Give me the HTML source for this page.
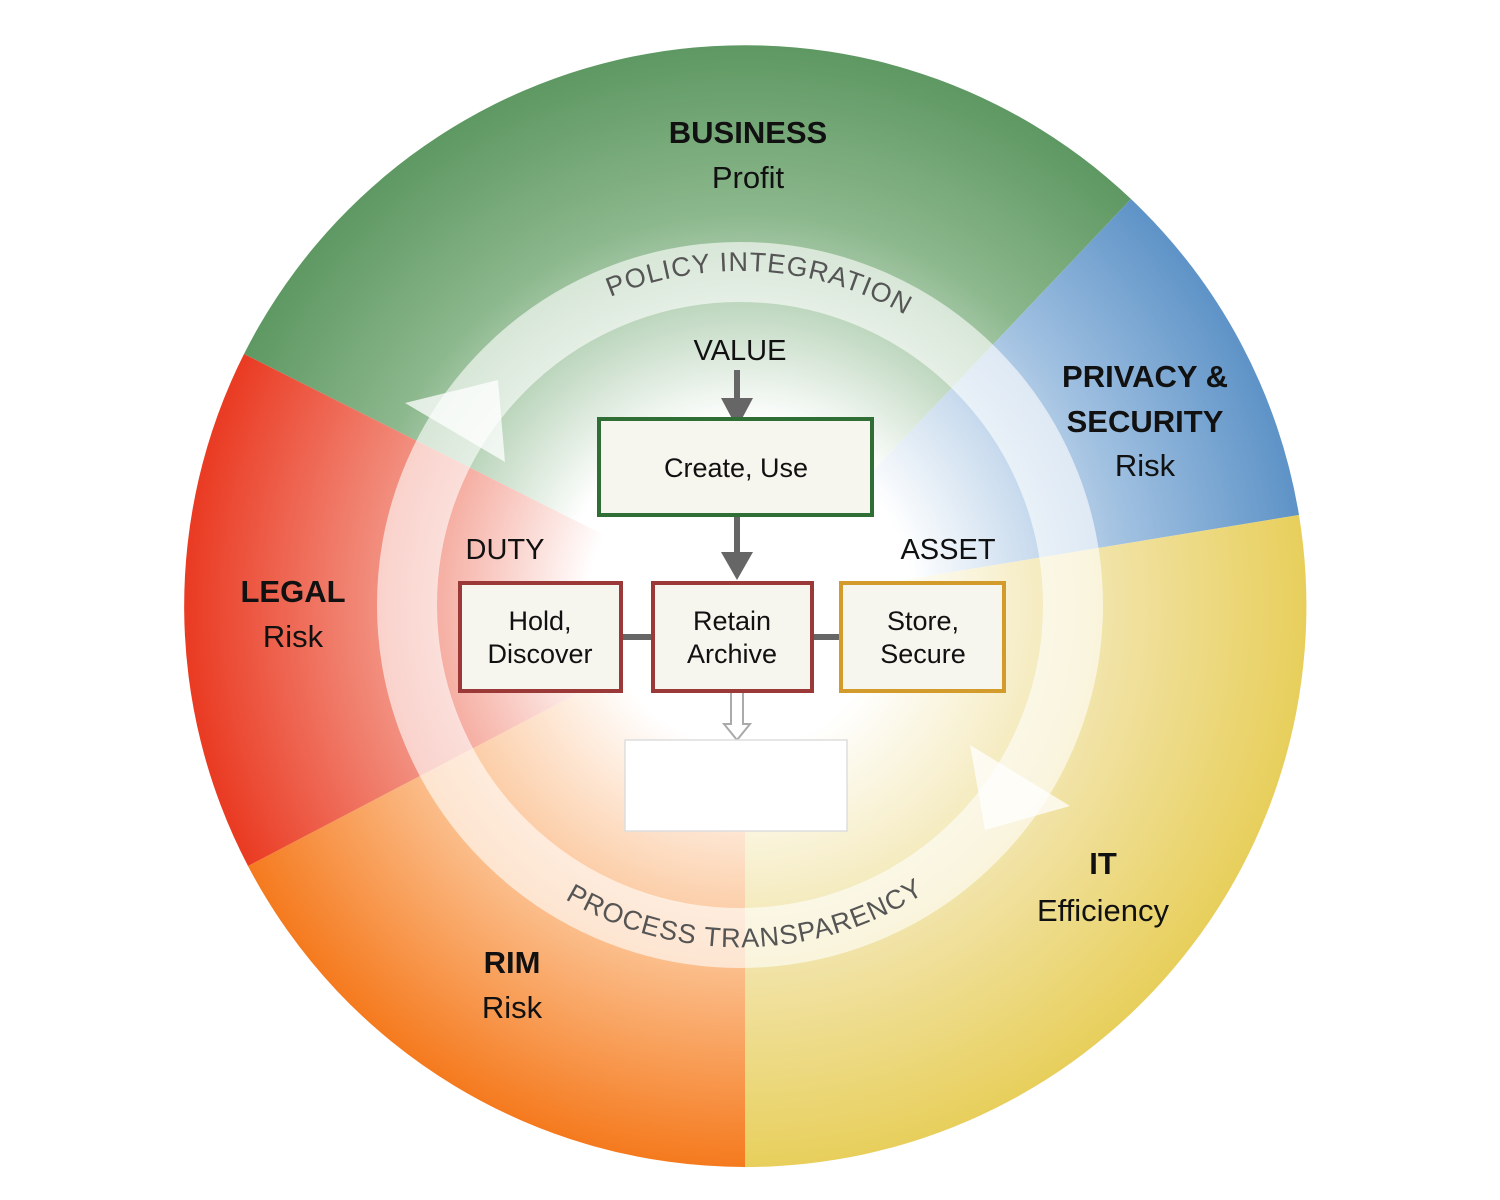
<!DOCTYPE html>
<html><head><meta charset="utf-8"><style>
html,body{margin:0;padding:0;background:#fff;}
svg{display:block;font-family:"Liberation Sans",sans-serif;}
</style></head><body>
<svg width="1500" height="1200" viewBox="0 0 1500 1200" xmlns="http://www.w3.org/2000/svg">
<defs>
<radialGradient id="gG" cx="745" cy="606" r="561" gradientUnits="userSpaceOnUse"><stop offset="0.33" stop-color="#fff"/><stop offset="0.7" stop-color="#8cb88d"/><stop offset="1" stop-color="#5e9862"/></radialGradient>
<radialGradient id="gB" cx="745" cy="606" r="561" gradientUnits="userSpaceOnUse"><stop offset="0.3" stop-color="#fff"/><stop offset="0.7" stop-color="#9ebfe0"/><stop offset="1" stop-color="#5e93c7"/></radialGradient>
<radialGradient id="gY" cx="745" cy="606" r="561" gradientUnits="userSpaceOnUse"><stop offset="0.25" stop-color="#fff"/><stop offset="0.65" stop-color="#f1e3a6"/><stop offset="1" stop-color="#e8cf5c"/></radialGradient>
<radialGradient id="gO" cx="745" cy="606" r="561" gradientUnits="userSpaceOnUse"><stop offset="0.25" stop-color="#fff"/><stop offset="0.65" stop-color="#fbbd8a"/><stop offset="1" stop-color="#f57a1e"/></radialGradient>
<radialGradient id="gR" cx="745" cy="606" r="561" gradientUnits="userSpaceOnUse"><stop offset="0.28" stop-color="#fff"/><stop offset="0.65" stop-color="#f29080"/><stop offset="1" stop-color="#ea3a22"/></radialGradient>
<path id="topArc" d="M 740 605 m -141.6 -302.7 A 334 334 0 0 1 917 322"/>
<path id="botArc" d="M 570 902 A 342 342 0 0 0 920 896"/>
</defs>
<!-- wedges -->
<path d="M745 606 L244 354 A561 561 0 0 1 1131 199 Z" fill="url(#gG)"/>
<path d="M745 606 L1131 199 A561 561 0 0 1 1299 515 Z" fill="url(#gB)"/>
<path d="M745 606 L1299 515 A561 561 0 0 1 745 1167 Z" fill="url(#gY)"/>
<path d="M745 606 L745 1167 A561 561 0 0 1 248 866 Z" fill="url(#gO)"/>
<path d="M745 606 L248 866 A561 561 0 0 1 244 354 Z" fill="url(#gR)"/>
<!-- ring -->
<circle cx="740" cy="605" r="333" fill="none" stroke="#fff" stroke-opacity="0.6" stroke-width="60"/>
<polygon points="405,403 498,380 505,462" fill="#fff" fill-opacity="0.75"/>
<polygon points="970,745 1070,806 985,830" fill="#fff" fill-opacity="0.75"/>
<text font-size="27" fill="#555" letter-spacing="1"><textPath href="#topArc" startOffset="50%" text-anchor="middle">POLICY INTEGRATION</textPath></text>
<text font-size="27" fill="#555" letter-spacing="1"><textPath href="#botArc" startOffset="50%" text-anchor="middle">PROCESS TRANSPARENCY</textPath></text>
<!-- segment labels -->
<g font-size="31" fill="#111" text-anchor="middle">
<text x="748" y="143" font-weight="bold">BUSINESS</text>
<text x="748" y="188">Profit</text>
<text x="1145" y="387" font-weight="bold">PRIVACY &amp;</text>
<text x="1145" y="432" font-weight="bold">SECURITY</text>
<text x="1145" y="476">Risk</text>
<text x="293" y="602" font-weight="bold">LEGAL</text>
<text x="293" y="647">Risk</text>
<text x="512" y="973" font-weight="bold">RIM</text>
<text x="512" y="1018">Risk</text>
<text x="1103" y="874" font-weight="bold">IT</text>
<text x="1103" y="921">Efficiency</text>
<text x="740" y="360" font-size="29">VALUE</text>
<text x="505" y="559" font-size="29">DUTY</text>
<text x="948" y="559" font-size="29">ASSET</text>
</g>
<!-- connectors -->
<g stroke="#666" stroke-width="6" fill="#666">
<line x1="737" y1="370" x2="737" y2="400"/>
<line x1="737" y1="516" x2="737" y2="558"/>
<line x1="622" y1="637" x2="652" y2="637"/>
<line x1="813" y1="637" x2="840" y2="637"/>
</g>
<polygon points="721,398 753,398 737,428" fill="#666"/>
<polygon points="721,552 753,552 737,580" fill="#666"/>
<path d="M731 692 V724 H724 L737 740 L750 724 H743 V692" fill="#fff" stroke="#aaa" stroke-width="2"/>
<rect x="625" y="740" width="222" height="91" fill="#fff" stroke="#ddd" stroke-width="1.5"/>
<!-- boxes -->
<rect x="599" y="419" width="273" height="96" fill="#f6f5ee" stroke="#2f6e35" stroke-width="4"/>
<rect x="460" y="583" width="161" height="108" fill="#f6f5ee" stroke="#9b3838" stroke-width="4"/>
<rect x="653" y="583" width="159" height="108" fill="#f6f5ee" stroke="#9b3838" stroke-width="4"/>
<rect x="841" y="583" width="163" height="108" fill="#f6f5ee" stroke="#d39a2c" stroke-width="4"/>
<g font-size="27" fill="#111" text-anchor="middle">
<text x="736" y="477">Create, Use</text>
<text x="540" y="630">Hold,</text><text x="540" y="663">Discover</text>
<text x="732" y="630">Retain</text><text x="732" y="663">Archive</text>
<text x="923" y="630">Store,</text><text x="923" y="663">Secure</text>
</g>
</svg>
</body></html>
